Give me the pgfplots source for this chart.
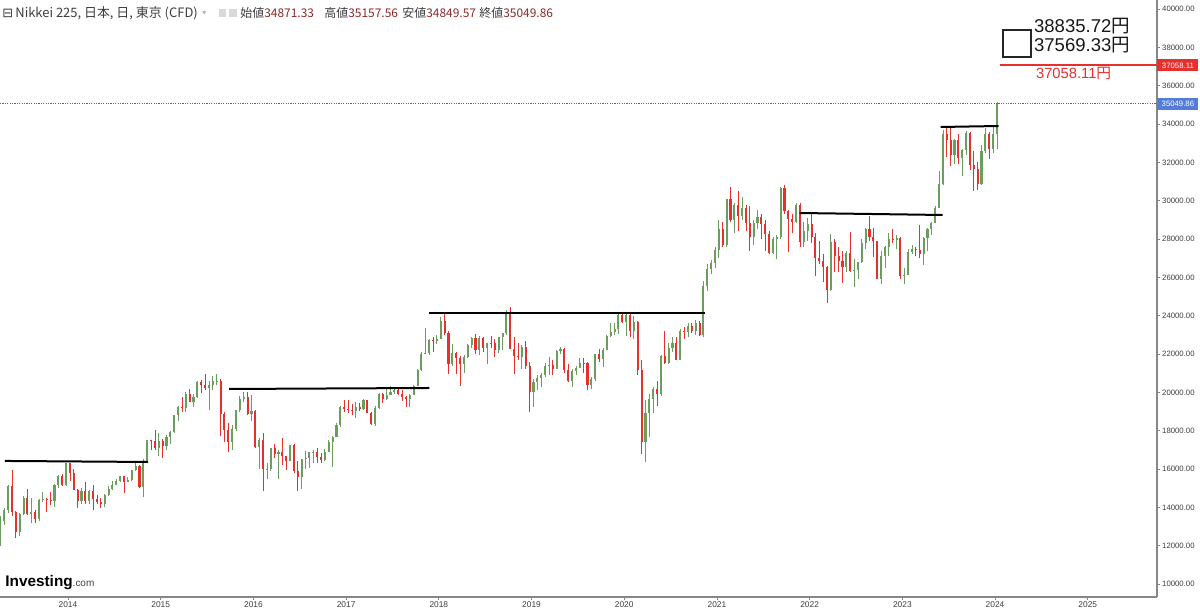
\documentclass[border=0pt]{standalone}
\usepackage{fontspec}
\setmainfont{Liberation Sans}
\newfontfamily\cjk{Noto Sans CJK JP}
\newfontfamily\dejavu{DejaVu Sans}
\usepackage{pgfplots}
\usepackage{pgfplotstable}
\pgfplotsset{compat=1.18}
\definecolor{cgreen}{RGB}{105,158,92}
\definecolor{cred}{RGB}{230,48,44}
\definecolor{axgray}{RGB}{135,135,135}
\definecolor{txt}{RGB}{60,60,60}
\definecolor{numred}{RGB}{140,40,40}
\definecolor{tvblue}{RGB}{85,125,215}
\definecolor{lineblue}{RGB}{60,95,235}
\pgfplotstableread{
x o h l c u
2013.2708 12140 13550 12000 13300 1
2013.3125 13300 13980 13100 13860 1
2013.3542 13860 15150 13700 15100 1
2013.3958 15100 15940 13550 13775 0
2013.4375 13775 13800 12420 12690 0
2013.4792 12690 13680 12500 13677 1
2013.5208 13677 14600 13600 14506 1
2013.5625 14506 14950 13600 13668 0
2013.6042 13668 14470 13190 13752 1
2013.6458 13752 13880 13180 13389 0
2013.6875 13389 14450 13300 14404 1
2013.7292 14404 14820 14300 14455 1
2013.7708 14455 14500 13750 14405 0
2013.8125 14405 14800 14100 14327 0
2013.8542 14327 15200 14000 15165 1
2013.8958 15165 15700 15000 15661 1
2013.9375 15661 15750 15100 15152 0
2013.9792 15152 16320 15100 16291 1
2014.0208 16291 16300 15400 15808 0
2014.0625 15808 16000 14900 14914 0
2014.1042 14914 14950 13990 14313 0
2014.1458 14313 15000 14200 14841 1
2014.1875 14841 15310 14200 14327 0
2014.2292 14327 14900 14200 14828 1
2014.2708 14828 15160 13880 14417 0
2014.3125 14417 14650 14200 14304 0
2014.3542 14304 14500 13960 14150 0
2014.3958 14150 14700 14000 14632 1
2014.4375 14632 15100 14600 14933 1
2014.4792 14933 15400 14900 15162 1
2014.5208 15162 15500 15150 15395 1
2014.5625 15395 15650 15300 15621 1
2014.6042 15621 15630 14750 15318 0
2014.6458 15318 15600 15300 15425 1
2014.6875 15425 15950 15400 15948 1
2014.7292 15948 16375 15900 16174 1
2014.7708 16174 16200 15000 15074 0
2014.8125 15074 16540 14530 16414 1
2014.8542 16414 17500 16400 17490 1
2014.8958 17490 17520 16970 17460 0
2014.9375 17460 18030 17000 17099 0
2014.9792 17099 17900 16670 17451 1
2015.0208 17451 17540 16590 17197 0
2015.0625 17197 17800 17000 17674 1
2015.1042 17674 18000 17300 17913 1
2015.1458 17913 18830 17900 18798 1
2015.1875 18798 19300 18500 19254 1
2015.2292 19254 19780 19000 19207 0
2015.2708 19207 20000 19000 19909 1
2015.3125 19909 20200 19500 19520 0
2015.3542 19520 19900 19250 19732 1
2015.3958 19732 20600 19700 20563 1
2015.4375 20563 20650 19990 20387 0
2015.4792 20387 20950 20100 20236 0
2015.5208 20236 20600 19100 20385 1
2015.5625 20385 20850 20100 20585 1
2015.6042 20585 20950 20400 20596 1
2015.6458 20596 20700 17700 18890 0
2015.6875 18890 18950 17400 18026 0
2015.7292 18026 18400 16900 17388 0
2015.7708 17388 18300 17000 18097 1
2015.8125 18097 19100 18000 19083 1
2015.8542 19083 19800 19000 19648 1
2015.8958 19648 20000 19500 19747 1
2015.9375 19747 20020 18800 18883 0
2015.9792 18883 19870 18500 19033 1
2016.0208 19033 19100 17100 17147 0
2016.0625 17147 17600 16000 17518 1
2016.1042 17518 17900 14860 16022 0
2016.1458 16022 16300 15500 16026 1
2016.1875 16026 17100 15900 17117 1
2016.2292 17117 17300 16600 16758 0
2016.2708 16758 17000 15470 16911 1
2016.3125 16911 17600 16200 16666 0
2016.3542 16666 16700 15970 16412 0
2016.3958 16412 17250 16400 17234 1
2016.4375 17234 17300 15800 15919 0
2016.4792 15919 16400 14860 15575 0
2016.5208 15575 16500 14950 16497 1
2016.5625 16497 16950 16000 16569 1
2016.6042 16569 16900 16050 16869 1
2016.6458 16869 17000 16300 16887 1
2016.6875 16887 17100 16300 16614 0
2016.7292 16614 16850 16300 16449 0
2016.7708 16449 17050 16400 16900 1
2016.8125 16900 17500 16900 17425 1
2016.8542 17425 17700 16100 17668 1
2016.8958 17668 18400 17650 18308 1
2016.9375 18308 19300 18200 19253 1
2016.9792 19253 19600 19000 19114 0
2017.0208 19114 19620 18900 19095 0
2017.0625 19095 19400 18800 19041 0
2017.1042 19041 19500 18650 19238 1
2017.1458 19238 19450 19050 19119 0
2017.1875 19119 19670 19100 19577 1
2017.2292 19577 19600 18900 18909 0
2017.2708 18909 19000 18300 18355 0
2017.3125 18355 19300 18220 19196 1
2017.3542 19196 19950 19150 19919 1
2017.3958 19919 19960 19450 19650 0
2017.4375 19650 20250 19600 19883 1
2017.4792 19883 20320 19850 20033 1
2017.5208 20033 20200 19900 20118 1
2017.5625 20118 20200 19850 19925 0
2017.6042 19925 20100 19550 19753 0
2017.6458 19753 19800 19240 19646 0
2017.6875 19646 19900 19240 19865 1
2017.7292 19865 20400 19850 20356 1
2017.7708 20356 21200 20350 21155 1
2017.8125 21155 22100 21100 22011 1
2017.8542 22011 23380 22000 22028 1
2017.8958 22028 22800 21970 22724 1
2017.9375 22724 22900 22100 22694 0
2017.9792 22694 23000 22500 22765 1
2018.0208 22765 23950 22760 23714 1
2018.0625 23714 24130 23000 23098 0
2018.1042 23098 23200 20950 21464 0
2018.1458 21464 22500 21400 22068 1
2018.1875 22068 22100 20940 21803 0
2018.2292 21803 21900 20350 21454 0
2018.2708 21454 21950 21000 21835 1
2018.3125 21835 22500 21800 22467 1
2018.3542 22467 22900 22300 22818 1
2018.3958 22818 23050 22000 22202 0
2018.4375 22202 22950 21930 22851 1
2018.4792 22851 22900 22100 22305 0
2018.5208 22305 22600 21460 22597 1
2018.5625 22597 22950 22300 22554 0
2018.6042 22554 22800 21850 22204 0
2018.6458 22204 22900 22050 22865 1
2018.6875 22865 23100 22200 23094 1
2018.7292 23094 24300 23000 24120 1
2018.7708 24120 24450 22400 22271 0
2018.8125 22271 22900 20970 21920 0
2018.8542 21920 22600 21700 21822 0
2018.8958 21822 22450 21200 22351 1
2018.9375 22351 22700 21200 21375 0
2018.9792 21375 21600 18950 20015 0
2019.0208 20015 20700 19240 20555 1
2019.0625 20555 20900 20100 20773 1
2019.1042 20773 21000 20300 20900 1
2019.1458 20900 21550 20800 21385 1
2019.1875 21385 21860 20900 21451 1
2019.2292 21451 21700 20900 21206 0
2019.2708 21206 22200 21200 22169 1
2019.3125 22169 22360 22000 22259 1
2019.3542 22259 22300 21000 21189 0
2019.3958 21189 21500 20550 20601 0
2019.4375 20601 21200 20300 21117 1
2019.4792 21117 21400 20900 21276 1
2019.5208 21276 21800 21250 21536 1
2019.5625 21536 21800 21000 21521 0
2019.6042 21521 21600 20100 20405 0
2019.6458 20405 20800 20170 20704 1
2019.6875 20704 22000 20600 21988 1
2019.7292 21988 22250 21600 21756 0
2019.7708 21756 22300 21300 22207 1
2019.8125 22207 23000 22200 22927 1
2019.8542 22927 23600 22900 23141 1
2019.8958 23141 23600 23000 23294 1
2019.9375 23294 24100 23050 24023 1
2019.9792 24023 24100 23600 23657 0
2020.0208 23657 24100 22950 24025 1
2020.0625 24025 24120 22900 23205 0
2020.1042 23205 23990 22780 23687 1
2020.1458 23687 23700 20900 21143 0
2020.1875 21143 21700 16800 17431 0
2020.2292 17431 19600 16358 18917 1
2020.2708 18917 19900 17650 19638 1
2020.3125 19638 20300 18900 20193 1
2020.3542 20193 20600 19300 19914 0
2020.3958 19914 21950 19800 21878 1
2020.4375 21878 23200 21500 21531 0
2020.4792 21531 22600 21500 22288 1
2020.5208 22288 22900 22100 22587 1
2020.5625 22587 22900 21700 21710 0
2020.6042 21710 23300 21700 23178 1
2020.6458 23178 23400 22800 23139 0
2020.6875 23139 23600 22900 23455 1
2020.7292 23455 23600 23100 23185 0
2020.7708 23185 23750 23000 23627 1
2020.8125 23627 23700 22950 22977 0
2020.8542 22977 25800 22900 25527 1
2020.8958 25527 26700 25300 26434 1
2020.9375 26434 26900 26200 26732 1
2020.9792 26732 27600 26500 27444 1
2021.0208 27444 28980 27000 28519 1
2021.0625 28519 28900 27600 27663 0
2021.1042 27663 30100 27600 30084 1
2021.1458 30084 30714 28900 28966 0
2021.1875 28966 29900 28300 29767 1
2021.2292 29767 30480 28400 29179 0
2021.2708 29179 30200 29000 29642 1
2021.3125 29642 29800 28400 28813 0
2021.3542 28813 29700 27400 28084 0
2021.3958 28084 29000 27700 28860 1
2021.4375 28860 29500 28500 29161 1
2021.4792 29161 29300 28000 28792 0
2021.5208 28792 29000 27400 28279 0
2021.5625 28279 28400 27200 27284 0
2021.6042 27284 28100 27200 27977 1
2021.6458 27977 28200 26950 28090 1
2021.6875 28090 30700 28000 30670 1
2021.7292 30670 30795 29300 29452 0
2021.7708 29452 29500 27300 29068 0
2021.8125 29068 29300 28300 28892 0
2021.8542 28892 29900 28850 29776 1
2021.8958 29776 29900 27600 27822 0
2021.9375 27822 28900 27600 28432 1
2021.9792 28432 29100 27900 28792 1
2022.0208 28792 29390 27800 28124 0
2022.0625 28124 28300 26050 27002 0
2022.1042 27002 27900 26700 26865 0
2022.1458 26865 27200 25780 26527 0
2022.1875 26527 26600 24680 25347 0
2022.2292 25347 28250 25300 27821 1
2022.2708 27821 28000 26300 27094 0
2022.3125 27094 27600 26300 26848 0
2022.3542 26848 27400 25700 26547 0
2022.3958 26547 27400 26300 27280 1
2022.4375 27280 28390 26300 26327 0
2022.4792 26327 26950 25520 26393 1
2022.5208 26393 26800 25900 26788 1
2022.5625 26788 28000 26750 27802 1
2022.6042 27802 28600 27500 28546 1
2022.6458 28546 29220 27900 28092 0
2022.6875 28092 28600 27050 27875 0
2022.7292 27875 27900 25900 25937 0
2022.7708 25937 27400 25650 27090 1
2022.8125 27090 27650 26500 27587 1
2022.8542 27587 28300 27100 27990 1
2022.8958 27990 28500 27800 27969 0
2022.9375 27969 28200 27500 28051 1
2022.9792 28051 28100 25900 26095 0
2023.0208 26095 26500 25660 26138 1
2023.0625 26138 27500 26100 27327 1
2023.1042 27327 27700 27200 27501 1
2023.1458 27501 27600 27100 27446 0
2023.1875 27446 28740 27000 27229 0
2023.2292 27229 28100 26630 28041 1
2023.2708 28041 28600 27400 28515 1
2023.3125 28515 28900 28200 28856 1
2023.3542 28856 29700 28850 29626 1
2023.3958 29626 31560 29600 30888 1
2023.4375 30888 33700 30800 33485 1
2023.4792 33485 33770 32300 33189 0
2023.5208 33189 33770 31800 32391 0
2023.5625 32391 33200 31900 33172 1
2023.6042 33172 33480 31900 32238 0
2023.6458 32238 32700 31300 32619 1
2023.6875 32619 33630 32400 33533 1
2023.7292 33533 33600 31600 31857 0
2023.7708 31857 32600 30500 31659 0
2023.8125 31659 32000 30540 30859 0
2023.8542 30859 32900 30800 32585 1
2023.8958 32585 33800 32500 33486 1
2023.9375 33486 33600 32200 32686 0
2023.9792 32686 33850 32500 33464 1
2024.0208 33464 35160 32700 35050 1
}\candles
\pgfplotstablegetrowsof{\candles}
\pgfmathtruncatemacro{\lastrow}{\pgfplotsretval-1}
\begin{document}
\begin{tikzpicture}
\begin{axis}[
  scale only axis, width=578.5bp, height=298.5bp,
  xmin=2013.2665, xmax=2025.747, ymin=9322, ymax=40470,
  axis x line*=bottom, axis y line*=right,
  axis line style={draw=axgray, line width=0.6bp},
  clip mode=individual,
  xtick={2014,2015,2016,2017,2018,2019,2020,2021,2022,2023,2024,2025},
  xticklabels={2014,2015,2016,2017,2018,2019,2020,2021,2022,2023,2024,2025},
  ytick={10000,12000,14000,16000,18000,20000,22000,24000,26000,28000,30000,32000,34000,36000,38000,40000},
  yticklabels={10000.00,12000.00,14000.00,16000.00,18000.00,20000.00,22000.00,24000.00,26000.00,28000.00,30000.00,32000.00,34000.00,36000.00,38000.00,40000.00},
  tick align=outside, major tick length=1.6bp,
  tick style={draw=axgray, line width=0.4bp},
  xticklabel style={font=\fontsize{4.2}{5}\selectfont, text=txt, anchor=north, inner sep=0pt, yshift=-0.6bp},
  yticklabel style={font=\fontsize{3.9}{5}\selectfont, text=txt, anchor=west, inner sep=0pt, xshift=0.8bp},
]
% candles: wick (low-high) and body (open-close)
\pgfplotsforeachungrouped \i in {0,...,\lastrow}{%
  \pgfplotstablegetelem{\i}{x}\of{\candles}\let\cx\pgfplotsretval
  \pgfplotstablegetelem{\i}{o}\of{\candles}\let\co\pgfplotsretval
  \pgfplotstablegetelem{\i}{h}\of{\candles}\let\ch\pgfplotsretval
  \pgfplotstablegetelem{\i}{l}\of{\candles}\let\cl\pgfplotsretval
  \pgfplotstablegetelem{\i}{c}\of{\candles}\let\cc\pgfplotsretval
  \pgfplotstablegetelem{\i}{u}\of{\candles}%
  \ifnum\pgfplotsretval=1 \def\ccol{cgreen}\else\def\ccol{cred}\fi
  \edef\candlecmd{%
    \noexpand\addplot[\ccol, line width=0.4bp, line cap=butt, mark=none, forget plot] coordinates {(\cx,\cl) (\cx,\ch)};%
    \noexpand\addplot[\ccol, line width=1.05bp, line cap=butt, mark=none, forget plot] coordinates {(\cx,\co) (\cx,\cc)};%
  }%
  \candlecmd
}
% resistance lines
\addplot[black, line width=1bp] coordinates {(2013.320,16420) (2014.864,16367)};
\addplot[black, line width=1bp] coordinates {(2015.738,20175) (2017.897,20227)};
\addplot[black, line width=1bp] coordinates {(2017.897,24140) (2020.876,24140)};
\addplot[black, line width=1bp] coordinates {(2021.891,29357) (2023.435,29253)};
\addplot[black, line width=1bp] coordinates {(2023.413,33844) (2024.039,33896)};
% price lines
\addplot[lineblue, line width=0.5bp, dash pattern=on 0.6bp off 0.6bp] coordinates {(2013.2665,35049.86) (2025.747,35049.86)};
\addplot[cred, line width=1bp] coordinates {(2024.05,37058.11) (2025.747,37058.11)};
% right labels
\node[anchor=west, fill=cred, text=white, inner sep=0.6bp, minimum width=20.5bp, minimum height=6bp, font=\fontsize{3.9}{4}\selectfont] at (axis cs:2025.747,37058.11) {37058.11};
\node[anchor=west, fill=tvblue, text=white, inner sep=0.6bp, minimum width=20.5bp, minimum height=6bp, font=\fontsize{3.9}{4}\selectfont] at (axis cs:2025.747,35049.86) {35049.86};
% annotations
\draw[line width=1bp, draw=black!85] (axis cs:2024.082,37512) rectangle (axis cs:2024.384,38904);
\node[anchor=base west, inner sep=0pt, text=black!90, font=\fontsize{9.3}{10}\selectfont] at (axis cs:2024.417,38784) {38835.72{\cjk 円}};
\node[anchor=base west, inner sep=0pt, text=black!90, font=\fontsize{9.3}{10}\selectfont] at (axis cs:2024.417,37772) {37569.33{\cjk 円}};
\node[anchor=base west, inner sep=0pt, text=cred, font=\fontsize{7.4}{9}\selectfont] at (axis cs:2024.438,36400) {37058.11{\cjk 円}};
% title
\node[anchor=west, inner sep=0pt, text=txt, font={\cjk\fontsize{6.5}{7}\selectfont}] at ([xshift=1bp,yshift=-6.5bp]rel axis cs:0,1) {{\dejavu ⊟}\,Nikkei 225, 日本, 日, 東京 (CFD)};
\node[anchor=west, inner sep=0pt, text=gray!60, font={\dejavu\fontsize{4}{5}\selectfont}] at ([xshift=101bp,yshift=-6.5bp]rel axis cs:0,1) {▾};
\node[fill=gray!30, minimum size=3.6bp, inner sep=0pt] at ([xshift=111.3bp,yshift=-6.5bp]rel axis cs:0,1) {};
\node[fill=gray!30, minimum size=3.6bp, inner sep=0pt] at ([xshift=116.5bp,yshift=-6.5bp]rel axis cs:0,1) {};
\node[anchor=west, inner sep=0pt, text=txt, font={\cjk\fontsize{6.0}{7}\selectfont}] at ([xshift=120bp,yshift=-6.5bp]rel axis cs:0,1) {始値\textcolor{numred}{34871.33}};
\node[anchor=west, inner sep=0pt, text=txt, font={\cjk\fontsize{6.0}{7}\selectfont}] at ([xshift=162bp,yshift=-6.5bp]rel axis cs:0,1) {高値\textcolor{numred}{35157.56}};
\node[anchor=west, inner sep=0pt, text=txt, font={\cjk\fontsize{6.0}{7}\selectfont}] at ([xshift=201bp,yshift=-6.5bp]rel axis cs:0,1) {安値\textcolor{numred}{34849.57}};
\node[anchor=west, inner sep=0pt, text=txt, font={\cjk\fontsize{6.0}{7}\selectfont}] at ([xshift=239.5bp,yshift=-6.5bp]rel axis cs:0,1) {終値\textcolor{numred}{35049.86}};
% logo
\node[anchor=base west, inner sep=0pt, text=black] at ([xshift=2.5bp,yshift=5.5bp]rel axis cs:0,0) {\fontsize{7.7}{8}\selectfont\bfseries Investing{\fontsize{5}{6}\selectfont\mdseries\color{black!75}.com}};
\coordinate (bl) at (rel axis cs:0,0);
\coordinate (tr) at (rel axis cs:1,1);
\end{axis}
\pgfresetboundingbox
\path[use as bounding box] ([yshift=-7bp]bl) rectangle ([xshift=21.5bp]tr);
\end{tikzpicture}
\end{document}
